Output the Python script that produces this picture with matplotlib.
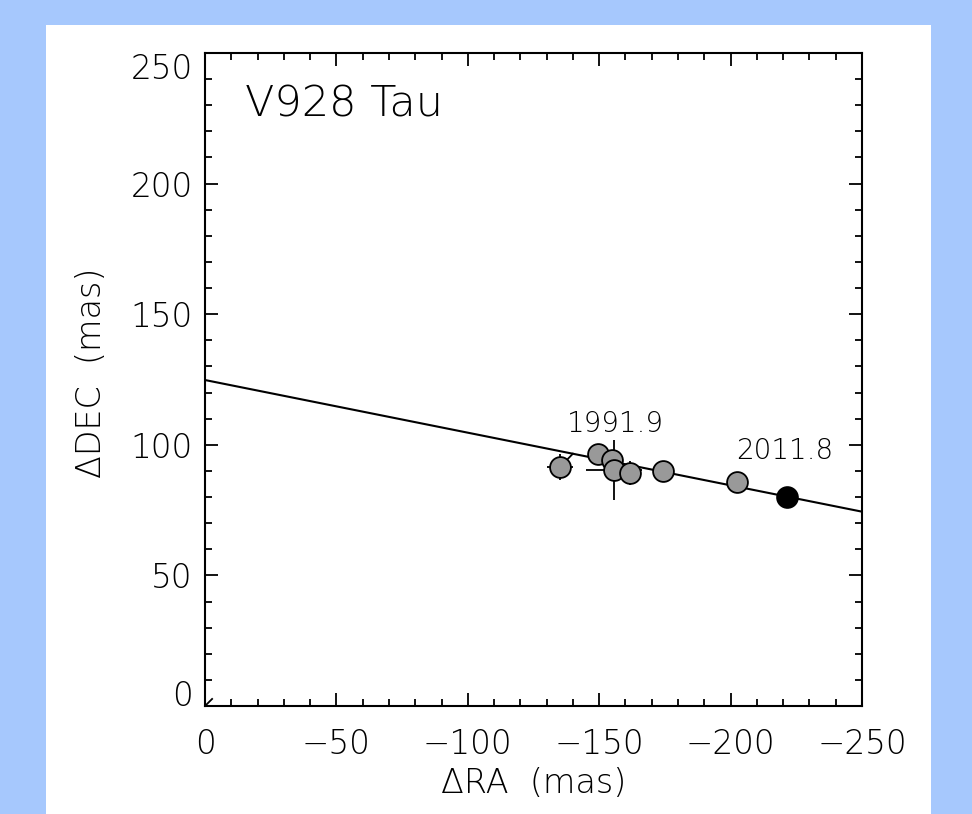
import matplotlib.pyplot as plt
from matplotlib.ticker import MultipleLocator

# relative astrometry of the companion (mas)
ra = [-135.1, -149.7, -154.8, -155.6, -161.7, -174.4, -202.6]
dec = [91.5, 96.4, 94.2, 90.4, 89.1, 90.1, 85.9]
ra_err = [4.8, 2.0, 2.0, 10.5, 3.0, 2.0, 2.0]
dec_err = [5.0, 2.0, 2.0, 11.5, 4.6, 2.0, 2.0]

# latest epoch
ra_new = [-221.3]
dec_new = [80.1]

# linear motion fit
fit_ra = [0, -250]
fit_dec = [124.8, 74.4]

# offset of the first point from its predicted position
resid_ra = [-135.1, -140.0]
resid_dec = [91.5, 96.6]

# primary at origin
prim_ra = [0, -2.7]
prim_dec = [0, 2.7]

plt.rcParams['font.family'] = ['DejaVu Sans']

fig = plt.figure(figsize=(9.72, 8.14), dpi=100)
fig.patch.set_facecolor('#a6c8fd')
fig.patches.append(plt.Rectangle((46 / 972, 0), (931 - 46) / 972, (814 - 25) / 814,
                                 transform=fig.transFigure, facecolor='white',
                                 edgecolor='none', zorder=-10))

ax = fig.add_axes([205 / 972, 108 / 814, 657 / 972, 653 / 814])

ax.plot(fit_ra, fit_dec, color='black', lw=1.5, zorder=2)
ax.plot(resid_ra, resid_dec, color='black', lw=1.3, zorder=2)
ax.plot(prim_ra, prim_dec, color='black', lw=1.3, zorder=2)

ax.errorbar(ra, dec, xerr=ra_err, yerr=dec_err, fmt='none', ecolor='black',
            elinewidth=1.3, capsize=0, zorder=3)
ax.plot(ra, dec, 'o', ms=15, mfc='#999999', mec='black', mew=1.3,
        linestyle='none', zorder=4)
ax.plot(ra_new, dec_new, 'o', ms=15, mfc='black', mec='black', mew=1.3,
        linestyle='none', zorder=4)

ax.text(-156, 105, '1991.9', ha='center', va='baseline', fontsize=20, fontweight='light')
ax.text(-220.7, 94.6, '2011.8', ha='center', va='baseline', fontsize=20, fontweight='light')
ax.text(0.061, 0.902, 'V928 Tau', transform=ax.transAxes, fontsize=31,
        fontweight='light', va='baseline')

ax.set_xlim(0, -250)
ax.set_ylim(0, 250)
ax.xaxis.set_major_locator(MultipleLocator(50))
ax.xaxis.set_minor_locator(MultipleLocator(10))
ax.yaxis.set_major_locator(MultipleLocator(50))
ax.yaxis.set_minor_locator(MultipleLocator(10))

ax.tick_params(which='both', direction='in', top=True, right=True, width=1.3,
               labelsize=23.5)
ax.tick_params(which='major', length=9.5)
ax.tick_params(which='minor', length=5)
ax.tick_params(axis='x', pad=16)
ax.tick_params(axis='y', pad=9)
for lab in ax.get_xticklabels() + ax.get_yticklabels():
    lab.set_fontweight('light')
for sp in ax.spines.values():
    sp.set_linewidth(1.5)

# keep the end labels of the y axis inside the frame
fig.canvas.draw()
for tick in ax.yaxis.get_major_ticks():
    if abs(tick.get_loc()) < 1e-6:
        tick.label1.set_verticalalignment('baseline')
    elif abs(tick.get_loc() - 250) < 1e-6:
        tick.label1.set_verticalalignment('top')

ax.set_xlabel('ΔRA  (mas)', fontsize=24, fontweight='light', labelpad=4)
ax.set_ylabel('ΔDEC  (mas)', fontsize=24, fontweight='light')
ax.yaxis.set_label_coords(-0.147, 0.511)

fig.savefig('out.png', dpi=100, facecolor=fig.get_facecolor())
